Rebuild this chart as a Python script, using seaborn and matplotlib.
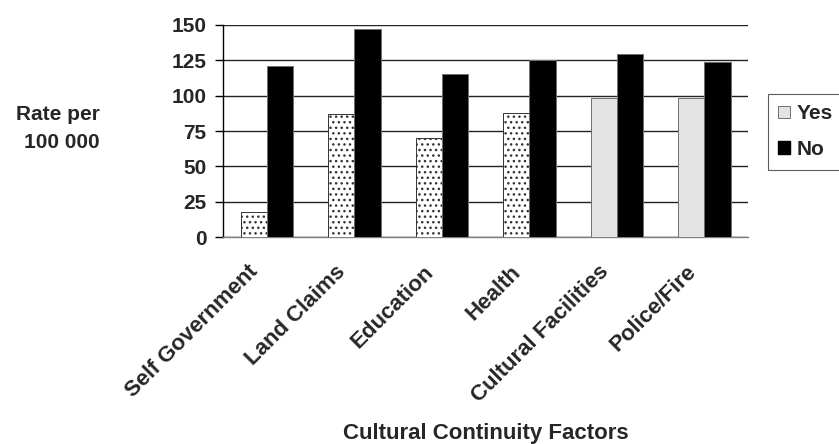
import matplotlib
matplotlib.use("Agg")
import matplotlib.pyplot as plt
import matplotlib.transforms as mtransforms
from matplotlib.patches import Patch
import seaborn as sns
import pandas as pd

categories = ["Self Government", "Land Claims", "Education", "Health",
              "Cultural Facilities", "Police/Fire"]
yes_values = [18, 87, 70, 88, 98, 98]
no_values = [121, 147, 115, 125, 129, 123.5]
# Yes bars drawn with a dotted fill (True) or a plain light grey fill (False)
yes_dotted = [True, True, True, True, False, False]
y_ticks = [0, 25, 50, 75, 100, 125, 150]

df = pd.DataFrame({
    "factor": categories * 2,
    "answer": ["Yes"] * len(categories) + ["No"] * len(categories),
    "rate": yes_values + no_values,
})

sns.set_theme(style="white")
plt.rcParams["font.family"] = ["Liberation Sans", "DejaVu Sans"]
plt.rcParams["font.weight"] = "bold"
plt.rcParams["hatch.linewidth"] = 1.0

FS = 15

fig = plt.figure(figsize=(8.39, 4.44), dpi=100)
ax = fig.add_axes([223 / 839, 1 - 237.3 / 444, (748 - 223) / 839, (237.3 - 24.7) / 444])

sns.barplot(data=df, x="factor", y="rate", hue="answer", order=categories,
            hue_order=["Yes", "No"], palette={"Yes": "#e3e3e3", "No": "black"},
            width=0.6, dodge=True, saturation=1, legend=False, ax=ax, zorder=3)

yes_bars, no_bars = ax.containers[0], ax.containers[1]
for bar, dotted in zip(yes_bars, yes_dotted):
    if dotted:
        bar.set_facecolor("white")
        bar.set_hatch("...")
        bar.set_edgecolor("#333333")
    else:
        bar.set_edgecolor("#707070")
    bar.set_linewidth(0.7)
for bar in no_bars:
    bar.set_edgecolor("#707070")
    bar.set_linewidth(0.7)

ax.set_ylim(0, 150)
ax.set_xlim(-0.5, len(categories) - 0.5)
ax.set_yticks(y_ticks)
ax.set_yticklabels([str(t) for t in y_ticks], fontsize=FS, fontweight="bold")
ax.yaxis.grid(True, color="#222222", linewidth=1.0, zorder=0)
ax.set_axisbelow(True)
ax.tick_params(axis="y", which="major", left=True, length=6, width=1,
               color="black", pad=6)
ax.tick_params(axis="x", bottom=False, pad=2)
ax.set_xticks(range(len(categories)))
ax.set_xticklabels(categories, rotation=45, ha="right", rotation_mode="anchor",
                   fontsize=16, fontweight="bold")
# slide the slanted category names a little left and down from the bar groups
shift = mtransforms.ScaledTranslation(-19 / 100, -13 / 100, fig.dpi_scale_trans)
for lbl in ax.get_xticklabels():
    lbl.set_transform(lbl.get_transform() + shift)

for side in ("top", "right"):
    ax.spines[side].set_visible(False)
ax.spines["left"].set_color("black")
ax.spines["left"].set_linewidth(1.0)
ax.spines["bottom"].set_color("#808080")
ax.spines["bottom"].set_linewidth(1.0)

ax.set_xlabel("")
ax.set_ylabel("")

fig.text(100 / 839, 1 - 128 / 444, "Rate per\n100 000", ha="right", va="center",
         multialignment="right", fontsize=FS, fontweight="bold", linespacing=1.6)
fig.text(485.5 / 839, 1 - 433 / 444, "Cultural Continuity Factors", ha="center",
         va="center", fontsize=16, fontweight="bold")

handles = [Patch(facecolor="#e3e3e3", edgecolor="#707070", linewidth=0.7, label="Yes"),
           Patch(facecolor="black", edgecolor="black", label="No")]
leg = fig.legend(handles=handles, loc="upper left",
                 bbox_to_anchor=(768 / 839, 1 - 94 / 444),
                 prop={"size": FS, "weight": "bold"}, frameon=True, fancybox=False,
                 handlelength=0.55, handleheight=0.55, handletextpad=0.3,
                 borderpad=0.5, labelspacing=0.8, borderaxespad=0)
leg.get_frame().set_edgecolor("#333333")
leg.get_frame().set_linewidth(0.8)

fig.savefig("out.png", dpi=100)
